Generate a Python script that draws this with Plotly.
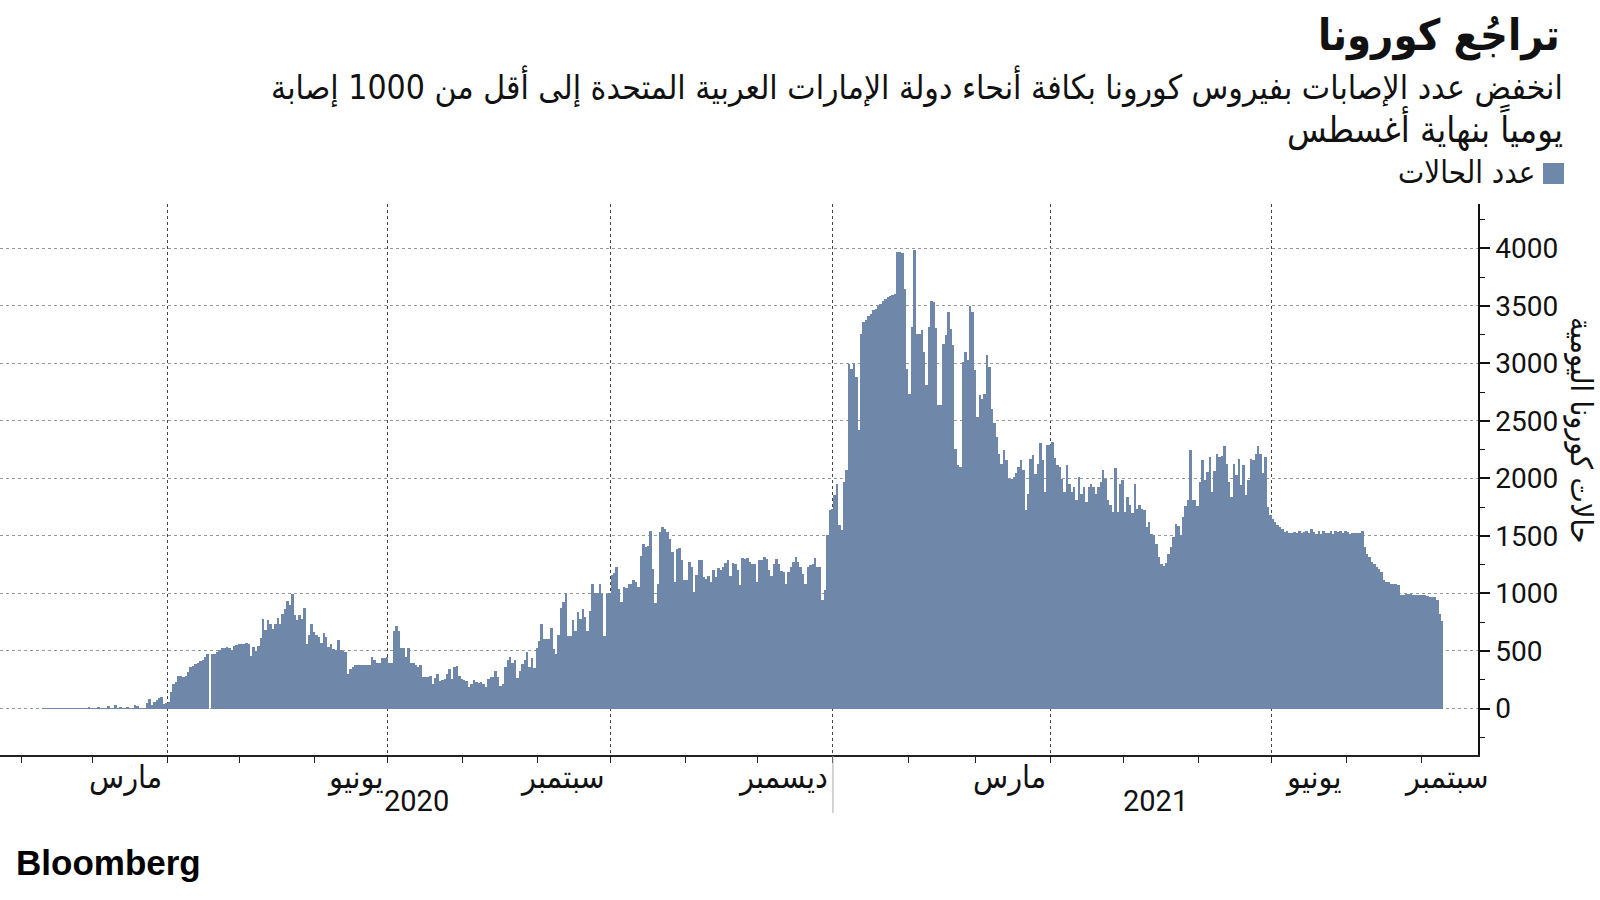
import pandas as pd
import plotly.graph_objects as go

# ---------------- data (daily new cases) ----------------
feb_2020 = [2, 2, 2, 2, 1, 2, 2, 2, 1, 2, 2, 2, 2, 2, 2, 2, 2, 2, 2, 14, 2, 2]
mar_2020 = [2, 17, 2, 2, 2, 26, 2, 2, 32, 2, 17, 2, 2, 17, 2, 2, 29, 22, 2, 2, 2,
            46, 84, 32, 61, 72, 93, 104, 41, 49, 55]
apr_2020 = [142, 215, 229, 287, 287, 273, 287, 316, 360, 371, 383, 394, 409, 426, 447,
            470, 0, 470, 476, 487, 510, 522, 528, 534, 530, 505, 545, 551, 557, 557]
may_2020 = [563, 568, 560, 458, 539, 499, 545, 615, 777, 679, 771, 737, 693, 737, 789,
            737, 818, 867, 934, 896, 998, 809, 766, 809, 780, 876, 563, 635, 731, 664, 635]
jun_2020 = [620, 568, 658, 620, 539, 563, 519, 510, 592, 505, 499, 490, 296, 345, 365,
            380, 380, 380, 378, 374, 374, 374, 447, 423, 394, 394, 441, 438, 447, 394]
jul_2020 = [394, 673, 716, 670, 525, 525, 447, 525, 394, 394, 380, 360, 374, 278, 278,
            278, 287, 215, 267, 302, 238, 244, 258, 302, 345, 258, 360, 368, 287, 258, 244]
aug_2020 = [238, 186, 215, 244, 229, 223, 229, 215, 186, 258, 273, 273, 325, 273, 200,
            215, 360, 423, 452, 394, 418, 267, 325, 389, 418, 490, 365, 441, 354, 528, 586]
sep_2020 = [737, 606, 606, 606, 702, 519, 476, 635, 873, 925, 1003, 626, 626, 771, 670,
            838, 780, 867, 795, 673, 847, 1079, 1003, 1003, 1079, 998, 626, 998, 1000, 1157]
oct_2020 = [1177, 1230, 1041, 925, 1056, 1050, 1079, 1085, 1119, 1099, 1056, 1322, 1427,
            1404, 1409, 1540, 1215, 916, 1079, 1534, 1578, 1563, 1534, 1476, 1360, 1099,
            1389, 1398, 1288, 1114, 1119]
nov_2020 = [1273, 1230, 1012, 1157, 1288, 1288, 1143, 1128, 1148, 1099, 1206, 1143, 1224,
            1206, 1230, 1264, 1288, 1148, 1264, 1259, 1206, 1070, 1311, 1302, 1311, 1273,
            1253, 1253, 1099, 1288]
dec_2020 = [1288, 1317, 1302, 1206, 1148, 1259, 1302, 1253, 1195, 1186, 1085, 1186, 1230,
            1273, 1317, 1273, 1230, 1172, 1079, 1230, 1244, 1253, 1311, 1230, 1230, 940,
            1027, 1505, 1723, 1737, 1853]
jan_2021 = [1954, 1592, 1548, 1969, 2070, 2998, 2954, 2998, 2882, 2418, 3253, 3360, 3380,
            3409, 3432, 3461, 3476, 3496, 3514, 3540, 3563, 3577, 3589, 3598, 3606, 3969,
            3969, 3960, 3650, 2954, 2737]
feb_2021 = [3317, 3983, 3253, 3253, 3288, 3099, 2809, 3317, 3543, 3534, 3311, 2635, 2635,
            3172, 3244, 3447, 3302, 3157, 2258, 2113, 2100, 3012, 3099, 3027, 3497, 3447,
            2940, 2534]
mar_2021 = [2722, 2693, 2737, 3070, 2969, 2606, 2482, 2360, 2215, 2128, 2250, 2157, 1997,
            1997, 2012, 2047, 2099, 2157, 2070, 1722, 1867, 2171, 2200, 2041, 2128, 2308,
            2157, 1881, 2287, 2287, 2316]
apr_2021 = [2177, 2113, 2099, 1997, 1881, 2113, 1954, 1881, 1925, 1809, 2012, 1867, 1925,
            1794, 1925, 1954, 1925, 1867, 1925, 1969, 2076, 1997, 1809, 1766, 1708, 2093,
            1708, 1954, 1983, 1708]
may_2021 = [1838, 1766, 1699, 1954, 1737, 1766, 1737, 1722, 1577, 1621, 1519, 1505, 1426,
            1316, 1258, 1235, 1264, 1345, 1403, 1490, 1600, 1583, 1505, 1664, 1757, 1809,
            2244, 1809, 1809, 1757, 1968]
jun_2021 = [2157, 1983, 2055, 2186, 1881, 2064, 2209, 2186, 2192, 2279, 2122, 1968, 1838,
            2128, 2026, 2171, 1939, 2113, 1852, 1983, 2171, 2157, 2215, 2279, 2215, 2047,
            2186, 1751, 1679, 1650]
jul_2021 = [1621, 1592, 1577, 1563, 1534, 1543, 1525, 1525, 1534, 1525, 1539, 1525, 1534,
            1543, 1525, 1563, 1534, 1519, 1543, 1519, 1543, 1525, 1525, 1543, 1519, 1543,
            1534, 1543, 1525, 1543, 1534]
aug_2021 = [1519, 1525, 1525, 1525, 1525, 1543, 1403, 1339, 1316, 1273, 1258, 1229, 1215,
            1186, 1113, 1099, 1099, 1084, 1080, 1078, 1070, 991, 991, 994, 994, 994, 991,
            991, 988, 983, 983]
sep_2021 = [983, 974, 968, 968, 968, 945, 823, 765]

month_blocks = [
    ("2020-02-08", feb_2020), ("2020-03-01", mar_2020), ("2020-04-01", apr_2020),
    ("2020-05-01", may_2020), ("2020-06-01", jun_2020), ("2020-07-01", jul_2020),
    ("2020-08-01", aug_2020), ("2020-09-01", sep_2020), ("2020-10-01", oct_2020),
    ("2020-11-01", nov_2020), ("2020-12-01", dec_2020), ("2021-01-01", jan_2021),
    ("2021-02-01", feb_2021), ("2021-03-01", mar_2021), ("2021-04-01", apr_2021),
    ("2021-05-01", may_2021), ("2021-06-01", jun_2021), ("2021-07-01", jul_2021),
    ("2021-08-01", aug_2021), ("2021-09-01", sep_2021),
]

# month labels: (text, label is right-aligned at this date)
month_labels = [
    ("مارس", "2020-04-01"), ("يونيو", "2020-07-01"), ("سبتمبر", "2020-10-01"),
    ("ديسمبر", "2021-01-01"), ("مارس", "2021-04-01"), ("يونيو", "2021-08-01"),
    ("سبتمبر", "2021-10-01"),
]
year_labels = ["2020", "2021"]
y_ticks = [0, 500, 1000, 1500, 2000, 2500, 3000, 3500, 4000]

title = "تراجُع كورونا"
subtitle1 = "انخفض عدد الإصابات بفيروس كورونا بكافة أنحاء دولة الإمارات العربية المتحدة إلى أقل من 1000 إصابة"
subtitle2 = "يومياً بنهاية أغسطس"
legend_name = "عدد الحالات"
y_title = "حالات كورونا اليومية"

# ---------------- build ----------------
dates, values = [], []
for start, vals in month_blocks:
    dates.extend(pd.date_range(start, periods=len(vals), freq="D"))
    values.extend(vals)
bar_x = pd.DatetimeIndex(dates) + pd.Timedelta(hours=40)

BAR = "#6F88AA"
W, H = 1600, 900
ML, MR, MT, MB = 0, 122, 204, 145
PW, PH = W - ML - MR, H - MT - MB

def px(x):
    return (x - ML) / PW

def py(y):
    return (H - MB - y) / PH

x_start = pd.Timestamp("2020-01-22 22:00")
x_end = pd.Timestamp("2021-09-24 11:00")
y0 = pd.Timestamp("2021-01-01")

def date_to_paper(d):
    return (pd.Timestamp(d) - x_start) / (x_end - x_start)

AR = "DejaVu Sans Condensed, DejaVu Sans, sans-serif"

fig = go.Figure(go.Bar(x=bar_x, y=values, marker=dict(color=BAR, line=dict(width=0)),
                       name=legend_name, showlegend=False, hoverinfo="x+y"))

fig.update_layout(
    width=W, height=H, margin=dict(l=ML, r=MR, t=MT, b=MB),
    plot_bgcolor="white", paper_bgcolor="white", bargap=0,
    xaxis=dict(type="date", range=[x_start, x_end], showline=True, linecolor="#222",
               linewidth=1.5, ticks="outside", ticklen=6, tickcolor="#222", tickwidth=1,
               dtick="M3", tick0="2020-01-01", showticklabels=False,
               showgrid=True, gridcolor="#444", griddash="dot", gridwidth=1, zeroline=False,
               minor=dict(dtick="M1", tick0="2020-01-01", ticks="outside", ticklen=6,
                          tickcolor="#222", tickwidth=1, showgrid=False)),
    yaxis=dict(side="right", range=[-404, 4385], tickmode="array", tickvals=y_ticks,
               ticktext=[str(v) for v in y_ticks],
               showline=True, linecolor="#111", linewidth=1.5, ticks="outside",
               ticklen=10, tickwidth=2, tickcolor="#111",
               tickfont=dict(family="Roboto, sans-serif", size=28, color="#111"),
               showgrid=True, gridcolor="#999", griddash="dot", gridwidth=1, zeroline=False,
               minor=dict(dtick=250, tick0=0, ticks="outside", ticklen=5, tickcolor="#111",
                          tickwidth=1, showgrid=False)),
    font=dict(family=AR, color="#111"),
)

ann = []
ann.append(dict(text="<b>" + title + "</b>", x=px(1562), y=py(35), xref="paper", yref="paper",
                xanchor="right", yanchor="middle", showarrow=False,
                font=dict(family=AR, size=43, color="#111")))
ann.append(dict(text=subtitle1, x=px(1565), y=py(86), xref="paper", yref="paper",
                xanchor="right", yanchor="middle", showarrow=False,
                font=dict(family=AR, size=33.5, color="#111")))
ann.append(dict(text=subtitle2, x=px(1565), y=py(128), xref="paper", yref="paper",
                xanchor="right", yanchor="middle", showarrow=False,
                font=dict(family=AR, size=36, color="#111")))
ann.append(dict(text=legend_name, x=px(1537), y=py(172), xref="paper", yref="paper",
                xanchor="right", yanchor="middle", showarrow=False,
                font=dict(family=AR, size=31, color="#111")))
ann.append(dict(text=y_title, x=px(1581), y=py(430), xref="paper", yref="paper",
                xanchor="center", yanchor="middle", showarrow=False, textangle=90,
                font=dict(family=AR, size=30, color="#111")))
for txt, d in month_labels:
    ann.append(dict(text=txt, x=date_to_paper(d), y=py(777), xref="paper", yref="paper",
                    xanchor="right", yanchor="middle", xshift=-3, showarrow=False,
                    font=dict(family=AR, size=32, color="#111")))
year_pos = [x_start + (y0 - x_start) / 2, y0 + (x_end - y0) / 2]
for txt, d in zip(year_labels, year_pos):
    ann.append(dict(text=txt, x=date_to_paper(d), y=py(801), xref="paper", yref="paper",
                    xanchor="center", yanchor="middle", showarrow=False,
                    font=dict(family="Roboto, sans-serif", size=29, color="#111")))
ann.append(dict(text="<b>Bloomberg</b>", x=px(14), y=py(862), xref="paper", yref="paper",
                xanchor="left", yanchor="middle", showarrow=False,
                font=dict(family="Liberation Sans, Arial, sans-serif", size=35, color="#000")))

shapes = [
    dict(type="rect", xref="paper", yref="paper", x0=px(1543), x1=px(1564),
         y0=py(184), y1=py(163), fillcolor=BAR, line=dict(width=0)),
    dict(type="line", xref="x", yref="paper", x0=y0, x1=y0, y0=py(813), y1=py(756),
         line=dict(color="#aaa", width=1)),
]
fig.update_layout(annotations=ann, shapes=shapes)

fig.write_html("out.html")
